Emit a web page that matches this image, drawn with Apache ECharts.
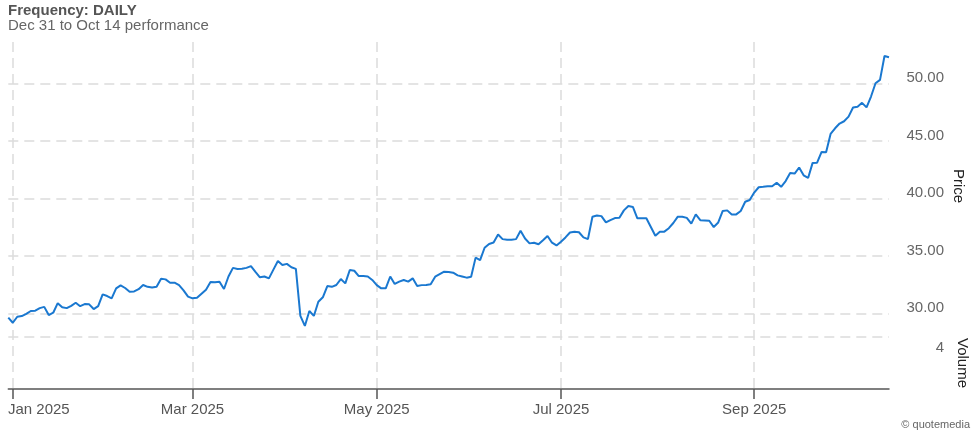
<!DOCTYPE html>
<html>
<head>
<meta charset="utf-8">
<script src="https://cdn.jsdelivr.net/npm/echarts/dist/echarts.min.js"></script>
<style>
html,body{margin:0;padding:0;background:#fff;}
#chart{width:980px;height:432px;}
</style>
</head>
<body>
<div id="chart"></div>
<script>
// Trading days (categories)
const dates = [
'2024-12-31',
'2025-01-02','2025-01-03','2025-01-06','2025-01-07','2025-01-08','2025-01-10','2025-01-13','2025-01-14','2025-01-15','2025-01-16','2025-01-17','2025-01-21','2025-01-22','2025-01-23','2025-01-24','2025-01-27','2025-01-28','2025-01-29','2025-01-30','2025-01-31',
'2025-02-03','2025-02-04','2025-02-05','2025-02-06','2025-02-07','2025-02-10','2025-02-11','2025-02-12','2025-02-13','2025-02-14','2025-02-18','2025-02-19','2025-02-20','2025-02-21','2025-02-24','2025-02-25','2025-02-26','2025-02-27','2025-02-28',
'2025-03-03','2025-03-04','2025-03-05','2025-03-06','2025-03-07','2025-03-10','2025-03-11','2025-03-12','2025-03-13','2025-03-14','2025-03-17','2025-03-18','2025-03-19','2025-03-20','2025-03-21','2025-03-24','2025-03-25','2025-03-26','2025-03-27','2025-03-28','2025-03-31',
'2025-04-01','2025-04-02','2025-04-03','2025-04-04','2025-04-07','2025-04-08','2025-04-09','2025-04-10','2025-04-11','2025-04-14','2025-04-15','2025-04-16','2025-04-17','2025-04-21','2025-04-22','2025-04-23','2025-04-24','2025-04-25','2025-04-28','2025-04-29','2025-04-30',
'2025-05-01','2025-05-02','2025-05-05','2025-05-06','2025-05-07','2025-05-08','2025-05-09','2025-05-12','2025-05-13','2025-05-14','2025-05-15','2025-05-16','2025-05-19','2025-05-20','2025-05-21','2025-05-22','2025-05-23','2025-05-27','2025-05-28','2025-05-29','2025-05-30',
'2025-06-02','2025-06-03','2025-06-04','2025-06-05','2025-06-06','2025-06-09','2025-06-10','2025-06-11','2025-06-12','2025-06-13','2025-06-16','2025-06-17','2025-06-18','2025-06-20','2025-06-23','2025-06-24','2025-06-25','2025-06-26','2025-06-27','2025-06-30',
'2025-07-01','2025-07-02','2025-07-03','2025-07-07','2025-07-08','2025-07-09','2025-07-10','2025-07-11','2025-07-14','2025-07-15','2025-07-16','2025-07-17','2025-07-18','2025-07-21','2025-07-22','2025-07-23','2025-07-24','2025-07-25','2025-07-28','2025-07-29','2025-07-30','2025-07-31',
'2025-08-01','2025-08-04','2025-08-05','2025-08-06','2025-08-07','2025-08-08','2025-08-11','2025-08-12','2025-08-13','2025-08-14','2025-08-15','2025-08-18','2025-08-19','2025-08-20','2025-08-21','2025-08-22','2025-08-25','2025-08-26','2025-08-27','2025-08-28','2025-08-29',
'2025-09-02','2025-09-03','2025-09-04','2025-09-05','2025-09-08','2025-09-09','2025-09-10','2025-09-11','2025-09-12','2025-09-15','2025-09-16','2025-09-17','2025-09-18','2025-09-19','2025-09-22','2025-09-23','2025-09-24','2025-09-25','2025-09-26','2025-09-29','2025-09-30',
'2025-10-01','2025-10-02','2025-10-03','2025-10-06','2025-10-07','2025-10-08','2025-10-09','2025-10-10','2025-10-13','2025-10-14'
];

// Daily closing prices
const prices = [
29.62,
29.18,29.70,29.76,29.95,30.20,30.23,30.45,30.56,29.85,30.05,30.88,30.52,30.45,30.65,30.92,30.62,30.80,30.78,30.37,30.63,
31.65,31.50,31.30,32.17,32.43,32.20,31.88,31.90,32.10,32.46,32.30,32.24,32.30,33.00,32.95,32.66,32.66,32.45,32.00,
31.45,31.30,31.35,31.70,32.05,32.72,32.70,32.75,32.11,33.20,33.95,33.86,33.88,33.95,34.10,33.60,33.13,33.20,33.04,33.80,34.55,
34.20,34.30,34.00,33.86,29.77,28.90,30.20,29.77,31.00,31.39,32.37,32.30,32.46,32.98,32.60,33.77,33.70,33.24,33.24,33.20,32.90,
32.45,32.17,32.17,33.20,32.55,32.75,32.90,32.75,33.04,32.37,32.45,32.46,32.52,33.18,33.40,33.62,33.60,33.53,33.30,33.20,33.10,
33.18,34.84,34.63,35.70,36.03,36.15,36.85,36.45,36.40,36.40,36.45,37.18,36.50,36.08,36.14,36.00,36.35,36.72,36.14,35.90,
36.23,36.60,37.03,37.10,37.05,36.60,36.45,38.40,38.50,38.45,37.90,38.10,38.28,38.30,38.95,39.33,39.25,38.26,38.26,38.26,37.50,36.75,
37.10,37.10,37.40,37.85,38.40,38.40,38.30,37.80,38.60,38.10,38.08,38.05,37.50,37.90,38.90,38.95,38.60,38.60,38.90,39.70,39.85,
40.50,40.96,41.00,41.05,41.05,41.36,41.00,41.50,42.20,42.15,42.68,42.00,41.77,43.08,43.10,44.03,44.00,45.60,46.09,46.50,46.70,
47.10,47.90,47.97,48.30,47.91,48.85,50.00,50.30,52.37,52.26
];

// Axis ticks (tick position on the trading-day axis and its label)
const xTickDates = ['2025-01-02','2025-03-04','2025-05-01','2025-07-01','2025-09-02'];
const xTickLabels = ['Jan 2025','Mar 2025','May 2025','Jul 2025','Sep 2025'];
const priceTicks = [30, 35, 40, 45, 50];
const volumeTicks = [4];

const FONT = '"Liberation Sans", Arial, Helvetica, sans-serif';
const tickIdx = xTickDates.map(d => dates.indexOf(d));
const isTick = (i) => tickIdx.indexOf(i) >= 0;
const grid = { left: 8.3, width: 880.7 };

// price axis geometry: interval 5, min a multiple of the interval
const pStep = priceTicks[1] - priceTicks[0];
const pMin = priceTicks[0] - pStep, pMax = priceTicks[priceTicks.length - 1] + pStep;

const chart = echarts.init(document.getElementById('chart'), null, { renderer: 'canvas' });
const hiddenX = (gi) => ({ type: 'category', gridIndex: gi, data: dates, boundaryGap: false, show: false });
const gridLine = { color: '#dcdcdc', width: 1.5, type: [10, 6] };

chart.setOption({
  animation: false,
  backgroundColor: '#fff',
  title: [
    { text: 'Frequency: DAILY', left: 8, top: 2.5, padding: 0,
      textStyle: { fontFamily: FONT, fontSize: 15, fontWeight: 'bold', color: '#555', lineHeight: 17 } },
    { text: 'Dec 31 to Oct 14 performance', left: 8, top: 17, padding: 0,
      textStyle: { fontFamily: FONT, fontSize: 15, fontWeight: 'normal', color: '#666', lineHeight: 17 } },
    { text: '© quotemedia', right: 10, top: 418, padding: 0,
      textStyle: { fontFamily: FONT, fontSize: 11, fontWeight: 'normal', color: '#666', lineHeight: 13 } }
  ],
  grid: [
    { left: grid.left, width: grid.width, top: 42, height: 347 },
    { left: grid.left, width: grid.width, top: 25.8, height: 345 },
    { left: grid.left, width: grid.width, top: 42, height: 288 },
    { left: grid.left, width: grid.width, top: 337, height: 52 }
  ],
  xAxis: [
    {
      type: 'category', gridIndex: 0, data: dates, boundaryGap: false,
      axisLine: { show: true, lineStyle: { color: '#555', width: 1.5 } },
      axisTick: { show: true, length: 10, interval: (i) => isTick(i), lineStyle: { color: '#555', width: 1.5 } },
      splitLine: { show: true, interval: (i) => isTick(i), lineStyle: gridLine },
      axisLabel: {
        interval: (i) => isTick(i), margin: 13, fontFamily: FONT, fontSize: 15, color: '#555',
        formatter: (v) => {
          const k = xTickDates.indexOf(v);
          const t = k >= 0 ? xTickLabels[k] : '';
          return k === 0 ? '{first|' + t + '}' : t;
        },
        rich: { first: { padding: [0, 0, 0, 52], fontFamily: FONT, fontSize: 15, color: '#555' } }
      }
    },
    hiddenX(1), hiddenX(2), hiddenX(3)
  ],
  yAxis: [
    { type: 'value', gridIndex: 0, min: 0, max: 1, show: false },
    {
      type: 'value', gridIndex: 1, position: 'right', min: pMin, max: pMax, interval: pStep,
      axisLine: { show: false }, axisTick: { show: false },
      splitLine: { show: true, showMinLine: false, showMaxLine: false, lineStyle: gridLine },
      axisLabel: { showMinLabel: false, showMaxLabel: false, align: 'right', margin: 55,
        verticalAlign: 'bottom', lineHeight: 10, fontFamily: FONT, fontSize: 15, color: '#666',
        formatter: (v) => v.toFixed(2) }
    },
    {
      type: 'value', gridIndex: 2, position: 'right', min: 0, max: 1,
      axisLine: { show: false }, axisTick: { show: false }, axisLabel: { show: false }, splitLine: { show: false },
      name: 'Price', nameLocation: 'middle', nameRotate: -90, nameGap: 62,
      nameTextStyle: { fontFamily: FONT, fontSize: 15, color: '#222' }
    },
    {
      type: 'value', gridIndex: 3, position: 'right', min: 0, max: volumeTicks[0], interval: volumeTicks[0],
      axisLine: { show: false }, axisTick: { show: false },
      splitLine: { show: true, showMinLine: false, showMaxLine: true, lineStyle: gridLine },
      axisLabel: { showMinLabel: false, showMaxLabel: true, align: 'right', margin: 55,
        verticalAlign: 'top', lineHeight: 22, fontFamily: FONT, fontSize: 15, color: '#666' },
      name: 'Volume', nameLocation: 'middle', nameRotate: -90, nameGap: 60,
      nameTextStyle: { fontFamily: FONT, fontSize: 15, color: '#222' }
    }
  ],
  series: [
    {
      type: 'line', xAxisIndex: 1, yAxisIndex: 1, data: prices,
      symbol: 'none', smooth: false,
      lineStyle: { color: '#1a78d0', width: 2 }
    }
  ]
});
</script>
</body>
</html>
